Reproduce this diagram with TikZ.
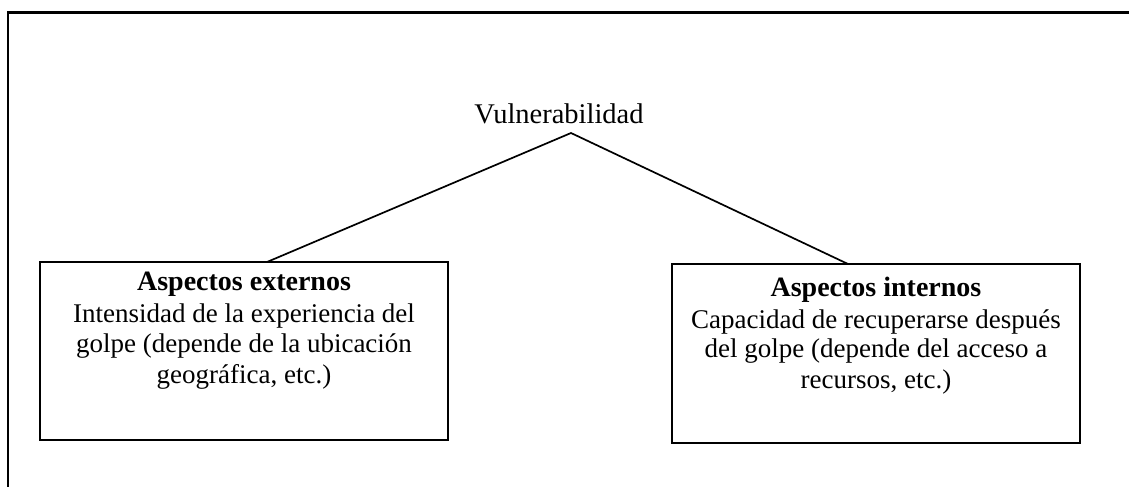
\documentclass[tikz,border=0pt]{standalone}
\usepackage{fontspec}
\setmainfont{Liberation Serif}
\begin{document}
\begin{tikzpicture}[x=1pt,y=-1pt,
  frame/.style={line width=2.3pt,draw=black},
  boxstyle/.style={draw=black,line width=2.1pt,minimum width=408pt,inner sep=0pt},
  link/.style={draw=black,line width=1.7pt},
  title/.style={anchor=base,font=\fontsize{28}{32}\selectfont\bfseries,inner sep=0pt},
  body/.style={anchor=base,font=\fontsize{27}{30}\selectfont,inner sep=0pt},
  head/.style={anchor=base,font=\fontsize{28.5}{32}\selectfont,inner sep=0pt}]
\useasboundingbox (0,0) rectangle (1129,487);
\fill[white] (0,0) rectangle (1129,487);
% outer frame (top and left edges)
\coordinate (fTR) at (1129,12.5);
\coordinate (fTL) at (8,12.5);
\coordinate (fBL) at (8,487);
\draw[frame] (fTR) -- (fTL) -- (fBL);
% top label
\node[head] (vul) at (559,123) {Vulnerabilidad};
\coordinate (apex) at (571,133);
% boxes
\node[boxstyle,minimum height=178pt] (lbox) at (244,351) {};
\node[boxstyle,minimum height=179pt] (rbox) at (876,353.5) {};
\coordinate (lend) at (267,262);
\coordinate (rend) at (848,264);
\draw[link] (lend) -- (apex) -- (rend);
% left box text
\node[title] (lt) at (244,290) {Aspectos externos};
\node[body] (l1) at (244,322) {Intensidad de la experiencia del};
\node[body] (l2) at (244,352) {golpe (depende de la ubicación};
\node[body] (l3) at (244,383) {geográfica, etc.)};
% right box text
\node[title] (rt) at (876,296) {Aspectos internos};
\node[body] (r1) at (876,328) {Capacidad de recuperarse después};
\node[body] (r2) at (876,357) {del golpe (depende del acceso a};
\node[body] (r3) at (876,388) {recursos, etc.)};
\end{tikzpicture}
\end{document}
